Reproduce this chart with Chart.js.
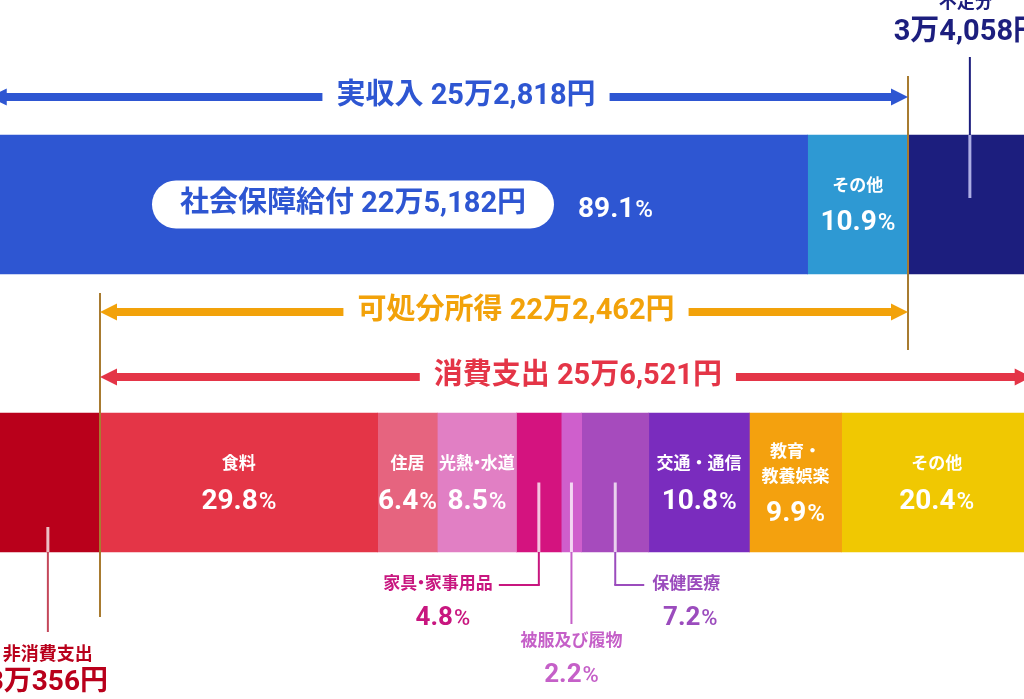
<!DOCTYPE html>
<html lang="ja">
<head>
<meta charset="utf-8">
<script src="https://cdn.jsdelivr.net/npm/chart.js@4.4.1/dist/chart.umd.min.js"></script>
<style>
  html, body { margin: 0; padding: 0; background: #fff; overflow: hidden; }
  #wrap { width: 1024px; height: 699px; position: relative; }
</style>
</head>
<body>
<div id="wrap"><canvas id="budgetChart" width="1024" height="699"></canvas></div>
<script>
// 収入側（円）
const incomeLabels = ["社会保障給付", "その他"];
const incomeValues = [225182, 27636];
const incomePct = [89.1, 10.9];
const realIncome = 252818;
const shortfall = 34058;

// 支出側
const nonConsumption = 30356;
const disposableIncome = 222462;
const consumptionTotal = 256521;
const consumptionLabels = ["食料", "住居", "光熱・水道", "家具・家事用品", "被服及び履物", "保健医療", "交通・通信", "教育・教養娯楽", "その他"];
const consumptionPct = [29.8, 6.4, 8.5, 4.8, 2.2, 7.2, 10.8, 9.9, 20.4];

const incomeColors = ["#2e56d2", "#2e99d3"];
const shortfallColor = "#1c1e7e";
const nonConsumptionColor = "#b9001b";
const consumptionColors = ["#e43547", "#e6647f", "#e17fc4", "#d4137f", "#cf5fcc", "#a64bbd", "#7a2cbe", "#f4a10e", "#f0c802"];

const FONT = "Roboto, 'Noto Sans CJK JP', sans-serif";

const datasets = [];
incomeLabels.forEach((lab, i) => {
    datasets.push({ label: lab, data: [incomeValues[i], null], backgroundColor: incomeColors[i] });
});
datasets.push({ label: "不足分", data: [shortfall, null], backgroundColor: shortfallColor });
datasets.push({ label: "非消費支出", data: [null, nonConsumption], backgroundColor: nonConsumptionColor });
consumptionLabels.forEach((lab, i) => {
    datasets.push({ label: lab, data: [null, consumptionTotal * consumptionPct[i] / 100], backgroundColor: consumptionColors[i] });
});

function pctText(ctx, value, x, y, size, color, align) {
    const num = value.toFixed(1);
    const small = Math.round(size * 0.86);
    ctx.fillStyle = color;
    ctx.textBaseline = "alphabetic";
    ctx.font = "bold " + size + "px " + FONT;
    const w1 = ctx.measureText(num).width;
    ctx.font = small + "px " + FONT;
    const w2 = ctx.measureText("%").width;
    let left = x - (w1 + w2 + 1) / 2;
    if (align === "left") left = x;
    const base = y + size * 0.36;
    ctx.textAlign = "left";
    ctx.font = "bold " + size + "px " + FONT;
    ctx.fillText(num, left, base);
    ctx.font = "500 " + small + "px " + FONT;
    ctx.fillText("%", left + w1 + 1, base);
}

function label(ctx, text, x, y, size, color, align) {
    ctx.fillStyle = color;
    ctx.font = "bold " + size + "px " + FONT;
    ctx.textAlign = align || "center";
    ctx.textBaseline = "middle";
    ctx.fillText(text, x, y);
}

// 中黒を詰めて描く
function tightLabel(ctx, text, x, y, size, color, align) {
    const parts = text.split("・");
    const dotW = size * 0.45;
    ctx.font = "bold " + size + "px " + FONT;
    const w0 = ctx.measureText(parts[0]).width;
    const w1 = ctx.measureText(parts[1]).width;
    const total = w0 + dotW + w1;
    let left = x - total / 2;
    if (align === "right") left = x - total;
    label(ctx, parts[0], left, y, size, color, "left");
    label(ctx, "・", left + w0 + dotW / 2, y, size, color, "center");
    label(ctx, parts[1], left + w0 + dotW, y, size, color, "left");
}

function arrow(ctx, x1, x2, y, color, text) {
    ctx.save();
    ctx.fillStyle = color;
    ctx.strokeStyle = color;
    ctx.lineWidth = 8;
    ctx.font = "bold 29px " + FONT;
    const tw = ctx.measureText(text).width;
    const mid = (Math.max(x1, 0) + x2) / 2 + 12;
    const head = 17;
    ctx.beginPath();
    ctx.moveTo(x1 + head - 2, y);
    ctx.lineTo(mid - tw / 2 - 14, y);
    ctx.moveTo(mid + tw / 2 + 14, y);
    ctx.lineTo(x2 - head + 2, y);
    ctx.stroke();
    [[x1, 1], [x2, -1]].forEach(([tip, dir]) => {
        ctx.beginPath();
        ctx.moveTo(tip, y);
        ctx.lineTo(tip + dir * head, y - 8.5);
        ctx.lineTo(tip + dir * head, y + 8.5);
        ctx.closePath();
        ctx.fill();
    });
    label(ctx, text, mid, y, 29, color);
    ctx.restore();
}

function leader(ctx, x, yIn, yBar, yOut, color) {
    ctx.save();
    ctx.strokeStyle = "rgba(255,255,255,0.75)";
    ctx.lineWidth = 3;
    ctx.beginPath();
    ctx.moveTo(x, yIn);
    ctx.lineTo(x, yBar);
    ctx.stroke();
    ctx.strokeStyle = color;
    ctx.lineWidth = 2;
    ctx.beginPath();
    ctx.moveTo(x, yBar);
    ctx.lineTo(x, yOut);
    ctx.stroke();
    ctx.restore();
}

const annotations = {
    id: "annotations",
    afterDatasetsDraw(chart) {
        const ctx = chart.ctx;
        const xs = chart.scales.x;
        const px = v => xs.getPixelForValue(v);
        const bar = (ds, row) => chart.getDatasetMeta(ds).data[row].getProps(["x", "base", "y", "height"], true);

        const top = bar(0, 0);
        const topY = top.y, topT = top.y - top.height / 2;
        const bot = bar(3, 1);
        const botY = bot.y, botB = bot.y + bot.height / 2;

        // 区切り線
        ctx.save();
        ctx.strokeStyle = "#a87b30";
        ctx.lineWidth = 2;
        ctx.beginPath();
        ctx.moveTo(px(realIncome), 76);
        ctx.lineTo(px(realIncome), 350);
        ctx.moveTo(px(nonConsumption), 293);
        ctx.lineTo(px(nonConsumption), 617);
        ctx.stroke();
        ctx.restore();

        // 矢印
        arrow(ctx, px(0), px(realIncome), 97, "#2e56d2", "実収入 25万2,818円");
        arrow(ctx, px(nonConsumption), px(nonConsumption + disposableIncome), 312, "#f2a20a", "可処分所得 22万2,462円");
        arrow(ctx, px(nonConsumption), px(nonConsumption + consumptionTotal), 377, "#e43547", "消費支出 25万6,521円");

        // 社会保障給付
        ctx.save();
        ctx.fillStyle = "#fff";
        ctx.beginPath();
        ctx.roundRect(152, topY - 24, 402, 48, 24);
        ctx.fill();
        ctx.restore();
        label(ctx, "社会保障給付 22万5,182円", 353, topY, 29, incomeColors[0]);
        pctText(ctx, incomePct[0], 578, topY + 2, 28, "#fff", "left");

        // その他（収入）
        const oth = bar(1, 0);
        const othX = (oth.x + oth.base) / 2;
        label(ctx, "その他", othX, topY - 18, 17, "#fff");
        pctText(ctx, incomePct[1], othX, topY + 15, 28, "#fff");

        // 不足分
        const sf = bar(2, 0);
        const sfX = (sf.x + sf.base) / 2;
        ctx.save();
        ctx.strokeStyle = shortfallColor;
        ctx.lineWidth = 2;
        ctx.beginPath();
        ctx.moveTo(sfX, 57);
        ctx.lineTo(sfX, topT);
        ctx.stroke();
        ctx.strokeStyle = "rgba(190,190,240,0.9)";
        ctx.lineWidth = 3;
        ctx.beginPath();
        ctx.moveTo(sfX, topT);
        ctx.lineTo(sfX, 198);
        ctx.stroke();
        ctx.restore();
        label(ctx, "不足分", sfX - 4, 3, 18, shortfallColor);
        label(ctx, "3万4,058円", sfX - 2, 33, 29, shortfallColor);

        // 非消費支出
        const nc = bar(3, 1);
        const ncX = (nc.x + nc.base) / 2 + 3;
        leader(ctx, ncX, 527, botB, 632, "#c4475a");
        label(ctx, "非消費支出", ncX, 655, 18, nonConsumptionColor);
        label(ctx, "3万356円", ncX, 683, 28, nonConsumptionColor);

        // 消費支出の内訳
        const seg = i => {
            const b = bar(4 + i, 1);
            return (b.x + b.base) / 2;
        };
        const white = "#fff";
        [0, 1, 6, 8].forEach(i => {
            label(ctx, consumptionLabels[i], seg(i), botY - 18, 17, white);
            pctText(ctx, consumptionPct[i], seg(i), botY + 16, 28, white);
        });
        tightLabel(ctx, consumptionLabels[2], seg(2), botY - 18, 17, white);
        pctText(ctx, consumptionPct[2], seg(2), botY + 16, 28, white);
        label(ctx, "教育・", seg(7), botY - 30, 17, white);
        label(ctx, "教養娯楽", seg(7), botY - 5, 17, white);
        pctText(ctx, consumptionPct[7], seg(7), botY + 28, 28, white);

        // 家具・家事用品
        const cFurn = "#c8167f";
        const xF = seg(3);
        leader(ctx, xF, botY, botB, 585, cFurn);
        ctx.save();
        ctx.strokeStyle = cFurn;
        ctx.lineWidth = 2;
        ctx.beginPath();
        ctx.moveTo(xF + 1, 585);
        ctx.lineTo(xF - 40, 585);
        ctx.stroke();
        ctx.restore();
        tightLabel(ctx, consumptionLabels[3], xF - 46, 585, 17, cFurn, "right");
        pctText(ctx, consumptionPct[3], xF - 96, 616, 26, cFurn);

        // 被服及び履物
        const cCloth = "#c560c8";
        const xC = seg(4);
        leader(ctx, xC, botY, botB, 624, cCloth);
        label(ctx, consumptionLabels[4], xC, 642, 17, cCloth);
        pctText(ctx, consumptionPct[4], xC, 673, 26, cCloth);

        // 保健医療
        const cMed = "#9b4cbd";
        const xM = seg(5);
        leader(ctx, xM, botY, botB, 585, cMed);
        ctx.save();
        ctx.strokeStyle = cMed;
        ctx.lineWidth = 2;
        ctx.beginPath();
        ctx.moveTo(xM - 1, 585);
        ctx.lineTo(xM + 29, 585);
        ctx.stroke();
        ctx.restore();
        label(ctx, consumptionLabels[5], xM + 37, 585, 17, cMed, "left");
        pctText(ctx, consumptionPct[5], xM + 75, 616, 26, cMed);
    }
};

new Chart(document.getElementById("budgetChart"), {
    type: "bar",
    data: {
        labels: ["実収入", "支出"],
        datasets: datasets
    },
    options: {
        indexAxis: "y",
        responsive: false,
        animation: false,
        events: [],
        barThickness: 139,
        borderSkipped: false,
        layout: { padding: { top: 65.5, bottom: 77.5, left: 0, right: 0 } },
        plugins: {
            legend: { display: false },
            tooltip: { enabled: false }
        },
        scales: {
            x: { stacked: true, display: false, min: 2824, max: 284752 },
            y: { stacked: true, display: false }
        }
    },
    plugins: [annotations]
});
</script>
</body>
</html>
